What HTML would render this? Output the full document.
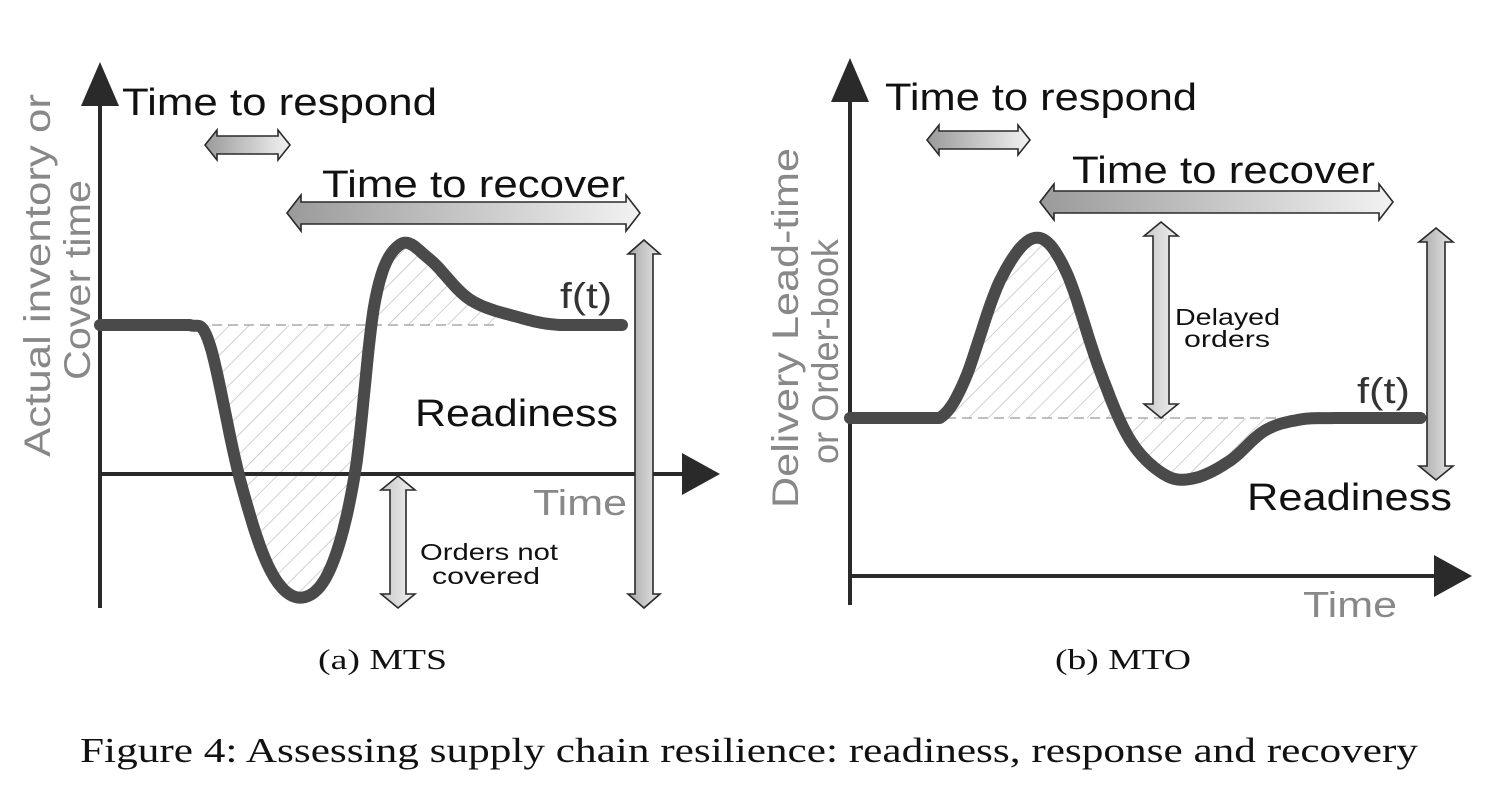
<!DOCTYPE html>
<html><head><meta charset="utf-8"><style>
html,body{margin:0;padding:0;background:#fff;}
svg{display:block;}
.s{font-family:"Liberation Sans",sans-serif;}
.r{font-family:"Liberation Serif",serif;}
</style></head><body>
<svg id="fig" width="1511" height="802" viewBox="0 0 1511 802" xmlns="http://www.w3.org/2000/svg">
<defs>
<linearGradient id="gh" x1="0" y1="0" x2="1" y2="0"><stop offset="0" stop-color="#9a9a9a"/><stop offset="1" stop-color="#f2f2f2"/></linearGradient>
<linearGradient id="gv" x1="0" y1="0" x2="1" y2="0"><stop offset="0" stop-color="#c8c8c8"/><stop offset="1" stop-color="#f0f0f0"/></linearGradient>
<linearGradient id="gv2" x1="0" y1="0" x2="1" y2="0"><stop offset="0" stop-color="#a8a8a8"/><stop offset="1" stop-color="#e6e6e6"/></linearGradient>
<pattern id="hatch" width="14" height="14" patternUnits="userSpaceOnUse" patternTransform="rotate(45)"><line x1="0" y1="0" x2="0" y2="14" stroke="#b8b8b8" stroke-width="1.3"/></pattern>
</defs>
<g id="layer"></g>
<text class="r" x="318" y="669" font-size="29" textLength="129" lengthAdjust="spacingAndGlyphs" fill="#111">(a) MTS</text>
<text class="r" x="1055" y="669" font-size="29" textLength="136" lengthAdjust="spacingAndGlyphs" fill="#111">(b) MTO</text>
<text class="r" x="80" y="762" font-size="35" textLength="1338" lengthAdjust="spacingAndGlyphs" fill="#111">Figure 4: Assessing supply chain resilience: readiness, response and recovery</text>
</svg>
<script>
// MTS curve data (time, value; value 1 = normal level, 0 = baseline)
const mtsTime = [0, 10, 14.5, 17.7, 22.6, 27.4, 32.3, 37.1, 41.1, 44.4, 48.4, 53.2, 59.7, 67.7, 74.2, 84.2];
const mtsValue = [1, 1, 1, 0.87, -0.04, -0.64, -0.83, -0.64, 0, 1.17, 1.54, 1.44, 1.17, 1.05, 1, 1];
// MTO curve data
const mtoTime = [0, 10, 14.5, 18.5, 24.2, 29.8, 34.7, 40.3, 45.2, 50.8, 55.6, 61.3, 66.9, 72.6, 79, 92];
const mtoValue = [1, 1, 1, 1.24, 1.87, 2.14, 1.94, 1.30, 0.86, 0.64, 0.62, 0.73, 0.92, 0.99, 1, 1];

const NS = "http://www.w3.org/2000/svg";
const layer = document.getElementById('layer');
function mk(tag, attrs, parent){const e=document.createElementNS(NS,tag);for(const k in attrs)e.setAttribute(k,attrs[k]);(parent||layer).appendChild(e);return e;}

const xA = t => 100 + t*6.2, yA = v => 474 - v*149;
const xB = t => 850 + t*6.2, yB = v => 576 - v*158;

function sample(ts, vs, xs, ys){
  const P = ts.map((t,i)=>[xs(t), ys(vs[i])]);
  const out=[];
  for(let i=0;i<P.length-1;i++){
    const p0=P[Math.max(0,i-1)],p1=P[i],p2=P[i+1],p3=P[Math.min(P.length-1,i+2)];
    if(p1[1]===p2[1]){ for(let k=0;k<12;k++){const s=k/12;out.push([p1[0]+(p2[0]-p1[0])*s,p1[1]]);} continue; }
    for(let k=0;k<12;k++){const s=k/12,s2=s*s,s3=s2*s;
      out.push([0.5*((2*p1[0])+(-p0[0]+p2[0])*s+(2*p0[0]-5*p1[0]+4*p2[0]-p3[0])*s2+(-p0[0]+3*p1[0]-3*p2[0]+p3[0])*s3),
                0.5*((2*p1[1])+(-p0[1]+p2[1])*s+(2*p0[1]-5*p1[1]+4*p2[1]-p3[1])*s2+(-p0[1]+3*p1[1]-3*p2[1]+p3[1])*s3)]);}
  }
  out.push(P[P.length-1]);return out;
}
function hArrow(x0,x1,cy,h,H,hw,fill,name){
  const pts=[[x0,cy],[x0+hw,cy-H/2],[x0+hw,cy-h/2],[x1-hw,cy-h/2],[x1-hw,cy-H/2],[x1,cy],[x1-hw,cy+H/2],[x1-hw,cy+h/2],[x0+hw,cy+h/2],[x0+hw,cy+H/2]];
  const e=mk('polygon',{points:pts.map(p=>p.join(',')).join(' '),fill:fill,stroke:'#2a2a2a','stroke-width':1.6});
  
  
}
function vArrow(cx,y0,y1,w,W,hh,fill,name){
  const pts=[[cx,y0],[cx+W/2,y0+hh],[cx+w/2,y0+hh],[cx+w/2,y1-hh],[cx+W/2,y1-hh],[cx,y1],[cx-W/2,y1-hh],[cx-w/2,y1-hh],[cx-w/2,y0+hh],[cx-W/2,y0+hh]];
  const e=mk('polygon',{points:pts.map(p=>p.join(',')).join(' '),fill:fill,stroke:'#2a2a2a','stroke-width':1.6});
  
  
}
function txt(x,y,s,size,fill,name,len){
  const e=mk('text',{x:x,y:y,'font-size':size,fill:fill,'class':'s'});
  if(len){e.setAttribute('textLength',len);e.setAttribute('lengthAdjust','spacingAndGlyphs');}
  e.textContent=s;
  
  
  return e;
}
function panel(ts,vs,xs,ys,cfg){
  const S=sample(ts,vs,xs,ys);
  const lvl=ys(1);
  const hp=S.filter(p=>p[0]>=cfg.h0&&p[0]<=cfg.h1);
  const hatch=mk('path',{d:'M'+hp[0][0]+','+lvl+' '+hp.map(p=>'L'+p[0].toFixed(1)+','+p[1].toFixed(1)).join(' ')+' L'+hp[hp.length-1][0]+','+lvl+' Z',fill:'url(#hatch)'});
  
  
  const dash=mk('line',{x1:xs(0),y1:lvl,x2:cfg.dashEnd,y2:lvl,stroke:'#aaa','stroke-width':1.5,'stroke-dasharray':'10,6'});
  
  
  const ya=mk('line',{x1:cfg.ax,y1:cfg.ayBot,x2:cfg.ax,y2:cfg.ayTop+30,stroke:'#2a2a2a','stroke-width':4});
  
  
  const yh=mk('polygon',{points:`${cfg.ax},${cfg.ayTop} ${cfg.ax-19},${cfg.ayTop+44} ${cfg.ax+19},${cfg.ayTop+44}`,fill:'#2a2a2a'});
  
  
  const xa=mk('line',{x1:cfg.ax,y1:cfg.xy,x2:cfg.xEnd-20,y2:cfg.xy,stroke:'#2a2a2a','stroke-width':4});
  
  
  const xh=mk('polygon',{points:`${cfg.xEnd},${cfg.xy} ${cfg.xEnd-38},${cfg.xy-21} ${cfg.xEnd-38},${cfg.xy+21}`,fill:'#2a2a2a'});
  
  
  const c=mk('path',{d:'M'+S.map(p=>p[0].toFixed(1)+','+p[1].toFixed(1)).join(' L'),fill:'none',stroke:'#4a4a4a','stroke-width':12,'stroke-linecap':'round','stroke-linejoin':'round'});
  
  
}

panel(mtsTime,mtsValue,xA,yA,{p:'mts',h0:190,h1:500,dashEnd:495,ax:100,ayTop:62,ayBot:608,xy:474,xEnd:720});
panel(mtoTime,mtoValue,xB,yB,{p:'mto',h0:940,h1:1290,dashEnd:1290,ax:850,ayTop:58,ayBot:605,xy:576,xEnd:1472});

// MTS annotations
hArrow(205,290,145,18,30,12,'url(#gh)','mts-respond-arrow');
hArrow(287,640,213,22,36,14,'url(#gh)','mts-recover-arrow');
vArrow(644,240,608,18,32,14,'url(#gv2)','mts-readiness-arrow');
vArrow(398,476,608,16,34,14,'url(#gv)','mts-orders-not-covered-arrow');
txt(122,115,'Time to respond',38,'#111','mts-respond-label',315);
txt(322,197,'Time to recover',38,'#111','mts-recover-label',303);
txt(415,426,'Readiness',38,'#111','mts-readiness-label',203);
txt(560,308,'f(t)',36,'#333','mts-f-t-label',52);
txt(533,515,'Time',36,'#888','mts-x-axis-title',94);
txt(420,560,'Orders not',23,'#111','mts-orders-label-1',138);
txt(432,584,'covered',23,'#111','mts-orders-label-2',108);
let t1=txt(-181,0,'Actual inventory or',37,'#888','mts-y-axis-title-1',363);t1.setAttribute('transform','translate(50,276) rotate(-90)');
let t2=txt(-100,0,'Cover time',37,'#888','mts-y-axis-title-2',200);t2.setAttribute('transform','translate(90,280) rotate(-90)');

// MTO annotations
hArrow(927,1030,140,18,30,12,'url(#gh)','mto-respond-arrow');
hArrow(1040,1393,202,22,36,14,'url(#gh)','mto-recover-arrow');
vArrow(1436,228,480,18,34,14,'url(#gv2)','mto-readiness-arrow');
vArrow(1161,222,418,16,34,14,'url(#gv)','mto-delayed-orders-arrow');
txt(885,110,'Time to respond',38,'#111','mto-respond-label',312);
txt(1072,183,'Time to recover',38,'#111','mto-recover-label',303);
txt(1247,510,'Readiness',38,'#111','mto-readiness-label',205);
txt(1357,403,'f(t)',36,'#333','mto-f-t-label',53);
txt(1303,617,'Time',36,'#888','mto-x-axis-title',94);
txt(1175,325,'Delayed',23,'#111','mto-delayed-label-1',105);
txt(1184,347,'orders',23,'#111','mto-delayed-label-2',86);
let t3=txt(-180,0,'Delivery Lead-time',37,'#888','mto-y-axis-title-1',360);t3.setAttribute('transform','translate(798,328) rotate(-90)');
let t4=txt(-112,0,'or Order-book',37,'#888','mto-y-axis-title-2',225);t4.setAttribute('transform','translate(838,352) rotate(-90)');
</script>
</body></html>
